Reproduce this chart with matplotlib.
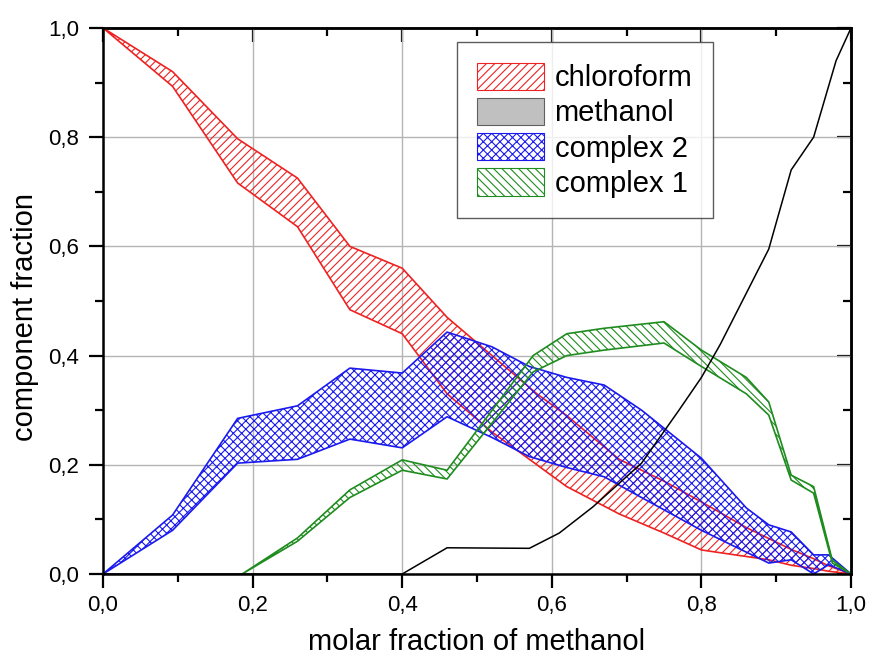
import matplotlib
matplotlib.use("Agg")
import matplotlib.pyplot as plt
from matplotlib.patches import Patch
from matplotlib.ticker import MultipleLocator, FuncFormatter, NullFormatter

plt.rcParams['font.family'] = ['Liberation Sans', 'DejaVu Sans']
plt.rcParams['hatch.linewidth'] = 0.8

# chloroform band
chl_x = [0, 0.093, 0.18, 0.26, 0.33, 0.40, 0.46, 0.52, 0.58, 0.62, 0.69, 0.75, 0.80, 0.86, 0.89, 0.92, 0.95, 0.97, 1.0]
chl_hi = [1, 0.92, 0.797, 0.725, 0.60, 0.56, 0.47, 0.40, 0.33, 0.29, 0.21, 0.17, 0.132, 0.085, 0.065, 0.045, 0.028, 0.015, 0]
chl_lo = [1, 0.893, 0.716, 0.636, 0.484, 0.44, 0.33, 0.26, 0.20, 0.16, 0.11, 0.075, 0.044, 0.032, 0.026, 0.016, 0.01, 0.005, 0]

# methanol line
met_x = [0, 0.40, 0.46, 0.57, 0.61, 0.655, 0.72, 0.77, 0.80, 0.825, 0.89, 0.92, 0.95, 0.98, 1.0]
met_y = [0, 0, 0.048, 0.047, 0.075, 0.123, 0.203, 0.30, 0.36, 0.42, 0.595, 0.74, 0.80, 0.94, 1.0]

# complex 2 band
c2_x = [0, 0.093, 0.18, 0.26, 0.33, 0.40, 0.46, 0.52, 0.57, 0.62, 0.67, 0.72, 0.80, 0.86, 0.89, 0.92, 0.95, 0.97, 1.0]
c2_hi = [0, 0.108, 0.285, 0.308, 0.377, 0.368, 0.443, 0.416, 0.38, 0.36, 0.346, 0.30, 0.212, 0.121, 0.09, 0.077, 0.035, 0.035, 0]
c2_lo = [0, 0.08, 0.203, 0.21, 0.247, 0.231, 0.288, 0.25, 0.215, 0.195, 0.178, 0.14, 0.08, 0.04, 0.02, 0.026, 0.0, 0.017, 0]

# complex 1 band
c1_x = [0.186, 0.26, 0.33, 0.40, 0.46, 0.575, 0.62, 0.67, 0.75, 0.80, 0.86, 0.89, 0.92, 0.95, 0.975, 1.0]
c1_hi = [0, 0.066, 0.154, 0.209, 0.19, 0.40, 0.44, 0.45, 0.462, 0.41, 0.36, 0.315, 0.181, 0.16, 0.025, 0]
c1_lo = [0, 0.06, 0.14, 0.19, 0.174, 0.37, 0.40, 0.41, 0.423, 0.38, 0.33, 0.291, 0.172, 0.148, 0.02, 0]

labels = ["chloroform", "methanol", "complex 2", "complex 1"]

fig = plt.figure(figsize=(8.7, 6.59), dpi=100)
ax = fig.add_axes([0.1184, 0.129, 0.8598, 0.8286])

ax.fill_between(chl_x, chl_lo, chl_hi, facecolor='none', edgecolor='#ee2222', hatch='////', linewidth=1.2)
ax.plot(met_x, met_y, color='black', linewidth=1.1)
ax.fill_between(c2_x, c2_lo, c2_hi, facecolor='none', edgecolor='#1a1aee', hatch='xxxx', linewidth=1.2)
ax.fill_between(c1_x, c1_lo, c1_hi, facecolor='none', edgecolor='#1e8c1e', hatch='\\\\\\\\', linewidth=1.2)

ax.set_xlim(0, 1)
ax.set_ylim(0, 1)
fmt = FuncFormatter(lambda v, p: f"{v:.1f}".replace('.', ','))
for a in (ax.xaxis, ax.yaxis):
    a.set_major_locator(MultipleLocator(0.2))
    a.set_minor_locator(MultipleLocator(0.1))
    a.set_major_formatter(fmt)
ax.grid(True, which='major', color='#b4b4b4', linewidth=1.0)
ax.set_axisbelow(True)
ax.tick_params(which='both', direction='out', width=1.6, labelsize=16)
ax.tick_params(which='major', length=10)
ax.tick_params(which='minor', length=6)
ax.tick_params(axis='x', pad=5)
ax.tick_params(axis='y', pad=7)
for s in ax.spines.values():
    s.set_linewidth(1.8)

# mirrored inward ticks on top and right
secx = ax.secondary_xaxis('top')
secy = ax.secondary_yaxis('right')
for sec, a in ((secx, secx.xaxis), (secy, secy.yaxis)):
    a.set_major_locator(MultipleLocator(0.2))
    a.set_minor_locator(MultipleLocator(0.1))
    a.set_major_formatter(NullFormatter())
    sec.tick_params(which='both', direction='in', width=1.6)
    sec.tick_params(which='major', length=10)
    sec.tick_params(which='minor', length=6)
    for s in sec.spines.values():
        s.set_linewidth(1.8)

ax.set_xlabel("molar fraction of methanol", fontsize=21, labelpad=9)
ax.set_ylabel("component fraction", fontsize=21)
ax.yaxis.set_label_coords(-0.085, 0.47)

handles = [
    Patch(facecolor='white', edgecolor='#ee2222', hatch='////', linewidth=0.8),
    Patch(facecolor='#c0c0c0', edgecolor='#606060', linewidth=0.8),
    Patch(facecolor='white', edgecolor='#1a1aee', hatch='xxxx', linewidth=0.8),
    Patch(facecolor='white', edgecolor='#1e8c1e', hatch='\\\\\\\\', linewidth=0.8),
]
leg = ax.legend(handles, labels, loc='upper left', bbox_to_anchor=(0.473, 0.974),
                fontsize=21, frameon=True, fancybox=False, edgecolor='#333333',
                handlelength=2.3, handleheight=1.05, labelspacing=0.2,
                borderpad=0.7, handletextpad=0.35, borderaxespad=0)
leg.get_frame().set_linewidth(1.0)
leg.set_zorder(5)

fig.savefig("out.png", dpi=100)
